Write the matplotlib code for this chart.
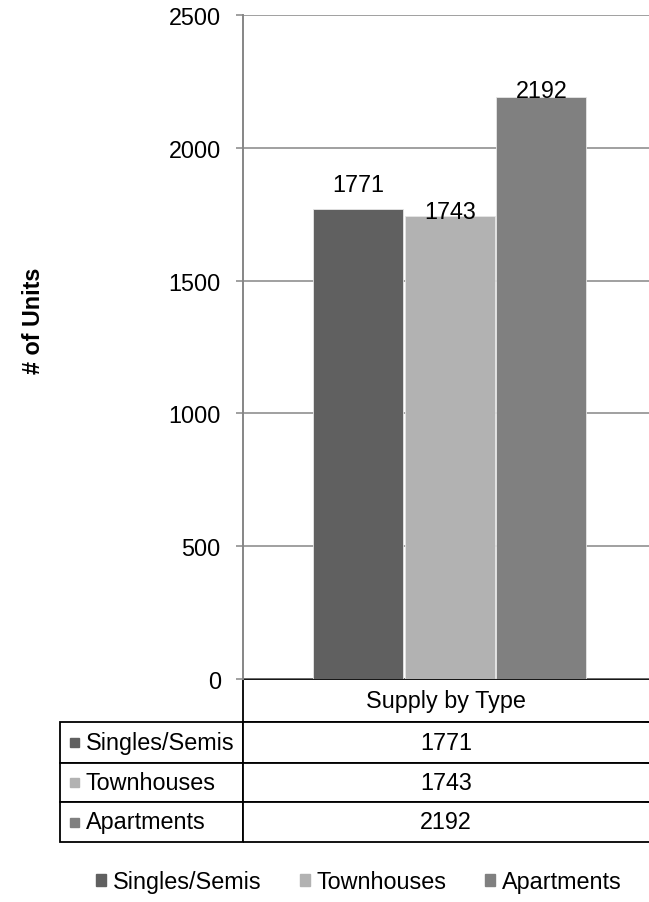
import matplotlib.pyplot as plt
from matplotlib.patches import Patch, Rectangle

plt.rcParams["font.family"] = ["Liberation Sans", "DejaVu Sans"]

# supply by dwelling type
category = "Supply by Type"
series = ["Singles/Semis", "Townhouses", "Apartments"]
units = [1771, 1743, 2192]
colors = ["#606060", "#b2b2b2", "#808080"]
y_ticks = [0, 500, 1000, 1500, 2000, 2500]

# per-label vertical nudge (points) above the bar top
label_offsets = [12.5, -1.5, -0.5]

FS = 16.8
GRID = "#868686"

fig = plt.figure(figsize=(6.49, 9.03), dpi=100)
W, H = 649, 903
ax_l, ax_r, ax_b, ax_t = 243, 649, 680, 16
ax_w_px, ax_h_px = ax_r - ax_l, ax_b - ax_t
ax = fig.add_axes([ax_l / W, 1 - ax_b / H, ax_w_px / W, ax_h_px / H])

bar_w = 0.222
step = 0.226
for i, (name, val, col) in enumerate(zip(series, units, colors)):
    x = 0.009 + (i - 1) * step
    ax.bar(x, val, width=bar_w, color=col, edgecolor="#e6e6e6", linewidth=0.6, zorder=3)
    ax.annotate(str(val), (x, val), xytext=(0, label_offsets[i]), textcoords="offset points",
                ha="center", va="baseline", fontsize=FS, zorder=4)

ax.set_xlim(-0.5, 0.5)
ax.set_ylim(0, 2500)
ax.set_yticks(y_ticks)
ax.set_xticks([])
ax.yaxis.grid(True, color=GRID, linewidth=1.1, zorder=0)
ax.tick_params(axis="y", length=5, width=1.1, color=GRID, pad=11, labelsize=FS)
for side in ["top", "right", "bottom"]:
    ax.spines[side].set_visible(False)
ax.spines["left"].set_color(GRID)
ax.spines["left"].set_linewidth(1.4)

fig.text(33 / W, 1 - 321 / H, "# of Units", rotation=90, ha="center", va="center",
         fontsize=FS, fontweight="bold")

# data table under the axis; sizes in pixels, converted to axes fractions
label_col_px = ax_l - 60
row_h = [43, 41, 39, 40]
tbl_h = sum(row_h) / ax_h_px
tbl = ax.table(cellText=[[str(v)] for v in units], colLabels=[category],
               colWidths=[1.0], cellLoc="center", bbox=[0, -tbl_h, 1, tbl_h])
for i, name in enumerate(series):
    tbl.add_cell(i + 1, -1, width=label_col_px / ax_w_px, height=row_h[i + 1] / ax_h_px,
                 text=name, loc="left")
tbl.auto_set_font_size(False)
tbl.set_fontsize(FS)
for (r, c), cell in tbl.get_celld().items():
    cell.set_height(row_h[r] / ax_h_px)
    cell.set_linewidth(1.3)
    cell.set_edgecolor("black")
    if c == -1:
        cell.PAD = 0.142
    else:
        cell.visible_edges = "BTL"

# colour keys inside the row label cells
y_edges = [ax_b]
for h in row_h:
    y_edges.append(y_edges[-1] + h)
sq = 9
for i, col in enumerate(colors):
    cy = (y_edges[i + 1] + y_edges[i + 2]) / 2
    fig.patches.append(Rectangle((70 / W, 1 - (cy + sq / 2) / H), sq / W, sq / H,
                                 transform=fig.transFigure, color=col, zorder=5))

handles = [Patch(color=c, label=s) for c, s in zip(colors, series)]
fig.legend(handles=handles, loc="center", bbox_to_anchor=(359 / W, 1 - 883 / H), ncol=3,
           frameon=False, fontsize=FS, handlelength=0.43, handleheight=0.43,
           handletextpad=0.28, columnspacing=1.65, borderpad=0, borderaxespad=0)

fig.savefig("out.png", dpi=100)
